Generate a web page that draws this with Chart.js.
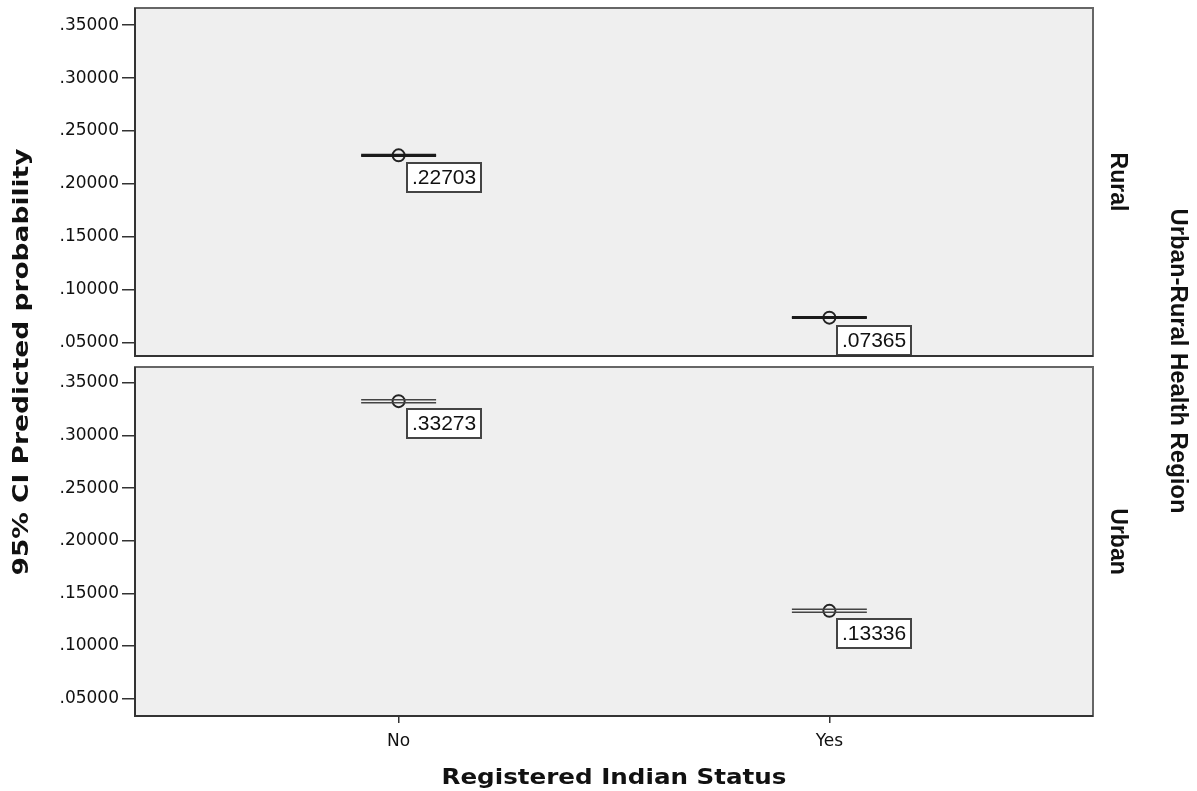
<!DOCTYPE html>
<html>
<head>
<meta charset="utf-8">
<script src="https://cdn.jsdelivr.net/npm/chart.js@4.4.1/dist/chart.umd.min.js"></script>
<style>
body { margin: 0; background: #fff; }
#wrap { position: relative; width: 1197px; height: 791px; }
#wrap canvas { position: absolute; left: 0; top: 0; }
</style>
</head>
<body>
<div id="wrap">
  <canvas id="ruralChart" width="1197" height="791"></canvas>
  <canvas id="urbanChart" width="1197" height="791"></canvas>
</div>
<script>
// categories and values
const statusCats = ['No', 'Yes'];
const regionNames = ['Rural', 'Urban'];

const ruralMean = [0.22703, 0.07365];
const ruralLow  = [0.2265, 0.0732];
const ruralHigh = [0.2275, 0.0742];

const urbanMean = [0.33273, 0.13336];
const urbanLow  = [0.3313, 0.1320];
const urbanHigh = [0.3341, 0.1348];

const yTicks = [0.05, 0.10, 0.15, 0.20, 0.25, 0.30, 0.35];
const xTicks = [0, 1];

const fmt = v => v.toFixed(5).replace(/^0/, '');
const capHalf = 0.087; // half width of the CI caps in category units

function ciLine(vals, lw, col) {
    return vals.map((v, i) => ({
        type: 'scatter',
        showLine: true,
        pointRadius: 0,
        pointHoverRadius: 0,
        borderWidth: lw,
        borderColor: col,
        data: [{x: i - capHalf, y: v}, {x: i + capHalf, y: v}]
    }));
}

function panelDatasets(mean, lo, hi, lw, col) {
    return [
        ...ciLine(lo, lw, col),
        ...ciLine(hi, lw, col),
        {
            type: 'scatter',
            data: mean.map((v, i) => ({x: i, y: v})),
            pointRadius: 6,
            pointHoverRadius: 6,
            pointBorderWidth: 2,
            pointBorderColor: '#222',
            pointBackgroundColor: 'rgba(0,0,0,0)'
        }
    ];
}

// grey panel, frame, value boxes and the facet name on the right
const panelPlugin = {
    id: 'panelPlugin',
    beforeDraw(chart) {
        const {ctx, chartArea: a} = chart;
        ctx.save();
        ctx.fillStyle = '#efefef';
        ctx.fillRect(a.left, a.top, a.right - a.left, a.bottom - a.top);
        ctx.restore();
    },
    afterDatasetsDraw(chart) {
        const ctx = chart.ctx;
        const ds = chart.data.datasets;
        const meanSet = ds[ds.length - 1];
        const meta = chart.getDatasetMeta(ds.length - 1);
        ctx.save();
        ctx.font = '21px "Liberation Sans", Arial, sans-serif';
        ctx.textBaseline = 'middle';
        meta.data.forEach((pt, i) => {
            const txt = fmt(meanSet.data[i].y);
            const w = Math.round(ctx.measureText(txt).width) + 10;
            const bx = Math.round(pt.x) + 8, by = Math.round(pt.y) + 8;
            ctx.fillStyle = '#fff';
            ctx.fillRect(bx, by, w, 29);
            ctx.strokeStyle = '#444';
            ctx.lineWidth = 2;
            ctx.strokeRect(bx, by, w, 29);
            ctx.fillStyle = '#111';
            ctx.fillText(txt, bx + 5, by + 15.5);
        });
        ctx.restore();
    },
    afterDraw(chart) {
        const {ctx, chartArea: a} = chart;
        ctx.save();
        ctx.lineWidth = 2;
        ctx.strokeStyle = '#666';
        ctx.strokeRect(a.left, a.top, a.right - a.left, a.bottom - a.top);
        ctx.strokeStyle = '#333';
        ctx.beginPath();
        ctx.moveTo(a.left, a.top);
        ctx.lineTo(a.left, a.bottom);
        ctx.lineTo(a.right, a.bottom);
        ctx.stroke();
        // facet label
        ctx.font = 'bold 23px "Liberation Sans", Arial, sans-serif';
        ctx.fillStyle = '#111';
        ctx.textAlign = 'center';
        ctx.textBaseline = 'middle';
        ctx.translate(a.right + 24, (a.top + a.bottom) / 2);
        ctx.rotate(Math.PI / 2);
        ctx.fillText(chart.options.plugins.panelPlugin.name, 0, 0);
        ctx.restore();
    }
};

function stretchText(ctx, txt, x, y, rot, targetW) {
    ctx.save();
    ctx.translate(x, y);
    ctx.rotate(rot);
    const w = ctx.measureText(txt).width;
    if (targetW) ctx.scale(targetW / w, 1);
    ctx.textAlign = 'center';
    ctx.textBaseline = 'middle';
    ctx.fillText(txt, 0, 0);
    ctx.restore();
}

const titlePlugin = {
    id: 'titlePlugin',
    afterDraw(chart) {
        const ctx = chart.ctx;
        ctx.save();
        ctx.fillStyle = '#111';
        ctx.font = 'bold 21px "DejaVu Sans", sans-serif';
        stretchText(ctx, 'Registered Indian Status', 614, 779, 0, 345);
        stretchText(ctx, '95% CI Predicted probability', 23, 362, -Math.PI / 2, 427);
        ctx.font = 'bold 23px "Liberation Sans", Arial, sans-serif';
        stretchText(ctx, 'Urban-Rural Health Region', 1177, 361, Math.PI / 2, 305);
        ctx.restore();
    }
};

function makeOptions(name, yMin, yMax, pad, showX) {
    return {
        responsive: false,
        animation: false,
        events: [],
        layout: {padding: pad},
        plugins: {
            legend: {display: false},
            tooltip: {enabled: false},
            panelPlugin: {name: name}
        },
        scales: {
            x: {
                type: 'linear',
                min: -0.612,
                max: 1.612,
                display: showX,
                afterBuildTicks: s => { s.ticks = xTicks.map(v => ({value: v})); },
                afterFit: s => { if (showX) s.height = 75; },
                ticks: {
                    callback: v => statusCats[v],
                    font: {family: 'DejaVu Sans', size: 17},
                    color: '#111',
                    padding: 8,
                    maxRotation: 0
                },
                grid: {drawOnChartArea: false, tickLength: 7, color: '#333', lineWidth: 1.5},
                border: {display: false}
            },
            y: {
                min: yMin,
                max: yMax,
                afterBuildTicks: s => { s.ticks = yTicks.map(v => ({value: v})); },
                afterFit: s => { s.width = 135; s.paddingTop = 0; s.paddingBottom = 0; },
                ticks: {
                    callback: v => fmt(v),
                    font: {family: 'DejaVu Sans', size: 17},
                    color: '#111',
                    padding: 3
                },
                grid: {drawOnChartArea: false, tickLength: 13, color: '#333', lineWidth: 1.5},
                border: {display: false}
            }
        }
    };
}

new Chart(document.getElementById('ruralChart'), {
    type: 'scatter',
    data: {datasets: panelDatasets(ruralMean, ruralLow, ruralHigh, 2, '#1a1a1a')},
    options: makeOptions(regionNames[0], 0.0374, 0.3663,
        {left: 0, right: 104, top: 7, bottom: 435}, false),
    plugins: [panelPlugin]
});

new Chart(document.getElementById('urbanChart'), {
    type: 'scatter',
    data: {datasets: panelDatasets(urbanMean, urbanLow, urbanHigh, 1.5, '#444')},
    options: makeOptions(regionNames[1], 0.0334, 0.3652,
        {left: 0, right: 104, top: 367, bottom: 0}, true),
    plugins: [panelPlugin, titlePlugin]
});
</script>
</body>
</html>
